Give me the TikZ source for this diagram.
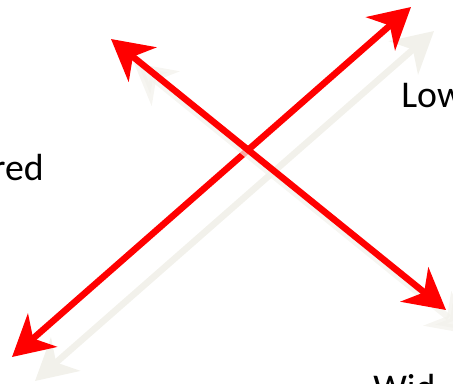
\documentclass[tikz,border=0pt]{standalone}
\usepackage{fontspec}
\setmainfont{Carlito}
\usetikzlibrary{arrows.meta}
\definecolor{shade}{RGB}{242,241,235}
\begin{document}
\begin{tikzpicture}[x=0.02cm, y=-0.02cm]
        % styles %
        \tikzstyle{crossarrow} = [line width=3.7pt, {Stealth[length=23pt, width=25pt, inset=7pt]}-{Stealth[length=23pt, width=25pt, inset=7pt]}];
        \tikzstyle{reddep} = [crossarrow, draw=red, fill=red];
        \tikzstyle{shadedep} = [crossarrow, draw=shade, fill=shade];
        \tikzstyle{word} = [inner sep=0pt, font=\fontsize{21.5}{26}\selectfont];

        \useasboundingbox (0,0) rectangle (453,383);

        % nodes %
        \coordinate (upA) at (12,357);
        \coordinate (upB) at (411,7);
        \coordinate (downA) at (111,39);
        \coordinate (downB) at (446,310);
        \coordinate (upAs) at (35,381);
        \coordinate (upBs) at (434,31);
        \coordinate (downAs) at (134,63);
        \coordinate (downBs) at (469,334);

        \node [word, anchor=base east] (red) at (44,180) {red};
        \node [word, anchor=base west] (low) at (401,107) {Low};
        \node [word, anchor=base west] (wid) at (373,400) {Wid};

        % edges %
        \draw [shadedep] (upAs) -- (upBs);
        \draw [reddep] (upA) -- (upB);
        \draw [shadedep, opacity=0.7] (downAs) -- (downBs);
        \draw [reddep] (downA) -- (downB);
\end{tikzpicture}
\end{document}
